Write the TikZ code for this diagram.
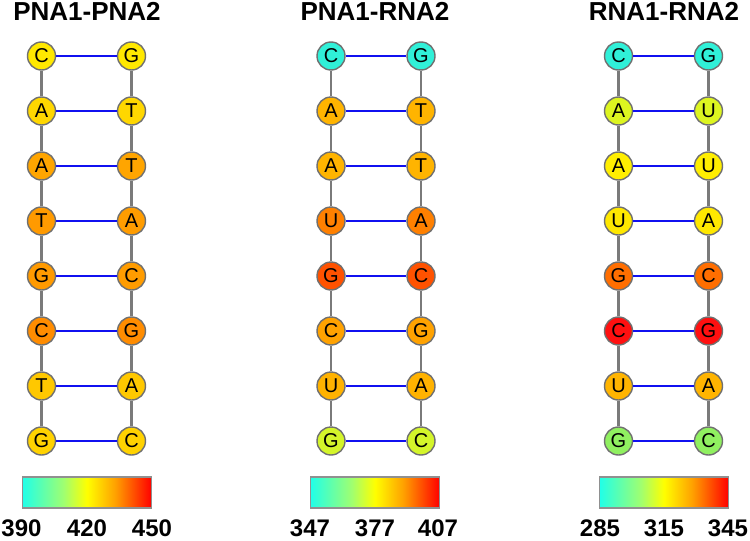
\documentclass[tikz,border=0pt]{standalone}
\usepackage{fontspec}
\setmainfont{Liberation Sans}
\definecolor{nodegray}{HTML}{707070}
\definecolor{linegray}{HTML}{7A7A7A}
\definecolor{pairblue}{HTML}{1010F0}
\definecolor{bargray}{HTML}{909090}
\definecolor{barcyan}{HTML}{20FFE8}
\definecolor{bargreen}{HTML}{A0FF70}
\definecolor{baryellow}{HTML}{FFFF00}
\definecolor{barorange}{HTML}{FFA000}
\definecolor{barred}{HTML}{FF0000}
% panel 1
\definecolor{qa}{HTML}{FFE800}
\definecolor{qb}{HTML}{FFD700}
\definecolor{qc}{HTML}{FFA500}
\definecolor{qd}{HTML}{FF9A00}
\definecolor{qe}{HTML}{FF9C00}
\definecolor{qf}{HTML}{FF8C00}
\definecolor{qg}{HTML}{FFC800}
\definecolor{qh}{HTML}{FFD200}
% panel 2
\definecolor{ra}{HTML}{30F0D8}
\definecolor{rb}{HTML}{FFB400}
\definecolor{rc}{HTML}{FF8000}
\definecolor{rd}{HTML}{FF5200}
\definecolor{re}{HTML}{FFA200}
\definecolor{rf}{HTML}{FFB200}
\definecolor{rg}{HTML}{D4F52A}
% panel 3
\definecolor{sa}{HTML}{DDF520}
\definecolor{sb}{HTML}{FFEE00}
\definecolor{sc}{HTML}{FFE800}
\definecolor{sd}{HTML}{FF6E00}
\definecolor{se}{HTML}{FF1010}
\definecolor{sf}{HTML}{FFB400}
\definecolor{sg}{HTML}{90F060}
\pgfdeclarehorizontalshading{heat}{100bp}{color(0bp)=(barcyan); color(25bp)=(barcyan); color(41bp)=(bargreen); color(50bp)=(baryellow); color(61bp)=(barorange); color(75bp)=(barred); color(100bp)=(barred)}
\newcommand{\drawpanel}[3]{%
  \foreach \i/\l/\r/\cl/\cr in {#3}{
    \node[base,fill=\cl] (#1L\i) at (#2-45, 56+55*\i) {\l};
    \node[base,fill=\cr] (#1R\i) at (#2+45, 56+55*\i) {\r};
    \draw[pair] (#1L\i) -- (#1R\i);
  }
  \foreach \i [evaluate=\i as \j using int(\i+1)] in {0,...,6}{
    \draw[backbone] (#1L\i) -- (#1L\j);
    \draw[backbone] (#1R\i) -- (#1R\j);
  }
}
\begin{document}
\begin{tikzpicture}[x=1pt,y=-1pt,
  base/.style={circle,draw=nodegray,line width=1.4pt,minimum size=28pt,inner sep=0pt,font=\fontsize{20}{20}\selectfont},
  backbone/.style={draw=linegray,line width=2.2pt},
  pair/.style={draw=pairblue,line width=2pt},
  title/.style={anchor=base,inner sep=0pt,font=\bfseries\fontsize{26}{26}\selectfont},
  bar/.style={draw=bargray,line width=1.4pt,shading=heat,minimum width=129pt,minimum height=31pt,inner sep=0pt},
  tick/.style={anchor=base,inner sep=0pt,font=\bfseries\fontsize{24}{24}\selectfont}]
\fill[white] (0,0) rectangle (750,541);
\useasboundingbox (0,0) rectangle (750,541);

\node[title] (t1) at (87,20.5) {PNA1-PNA2};
\node[title] (t2) at (375,20.5) {PNA1-RNA2};
\node[title] (t3) at (664,20.5) {RNA1-RNA2};

\drawpanel{a}{86.5}{0/C/G/qa/qa, 1/A/T/qb/qb, 2/A/T/qc/qc, 3/T/A/qd/qe, 4/G/C/qd/qe, 5/C/G/qf/qf, 6/T/A/qg/qg, 7/G/C/qh/qh}
\drawpanel{b}{376}{0/C/G/ra/ra, 1/A/T/rb/rb, 2/A/T/rb/rb, 3/U/A/rc/rc, 4/G/C/rd/rd, 5/C/G/re/re, 6/U/A/rf/rf, 7/G/C/rg/rg}
\drawpanel{c}{663.5}{0/C/G/ra/ra, 1/A/U/sa/sa, 2/A/U/sb/sb, 3/U/A/sc/sc, 4/G/C/sd/sd, 5/C/G/se/se, 6/U/A/sf/sf, 7/G/C/sg/sg}

\node[bar] (bar1) at (87,492.3) {};
\node[bar] (bar2) at (375,492.3) {};
\node[bar] (bar3) at (664,492.3) {};

\node[tick] (k1a) at (21.5,536) {390};
\node[tick] (k1b) at (87,536) {420};
\node[tick] (k1c) at (152,536) {450};
\node[tick] (k2a) at (310,536) {347};
\node[tick] (k2b) at (375,536) {377};
\node[tick] (k2c) at (438,536) {407};
\node[tick] (k3a) at (600,536) {285};
\node[tick] (k3b) at (664,536) {315};
\node[tick] (k3c) at (728,536) {345};
\end{tikzpicture}
\end{document}
